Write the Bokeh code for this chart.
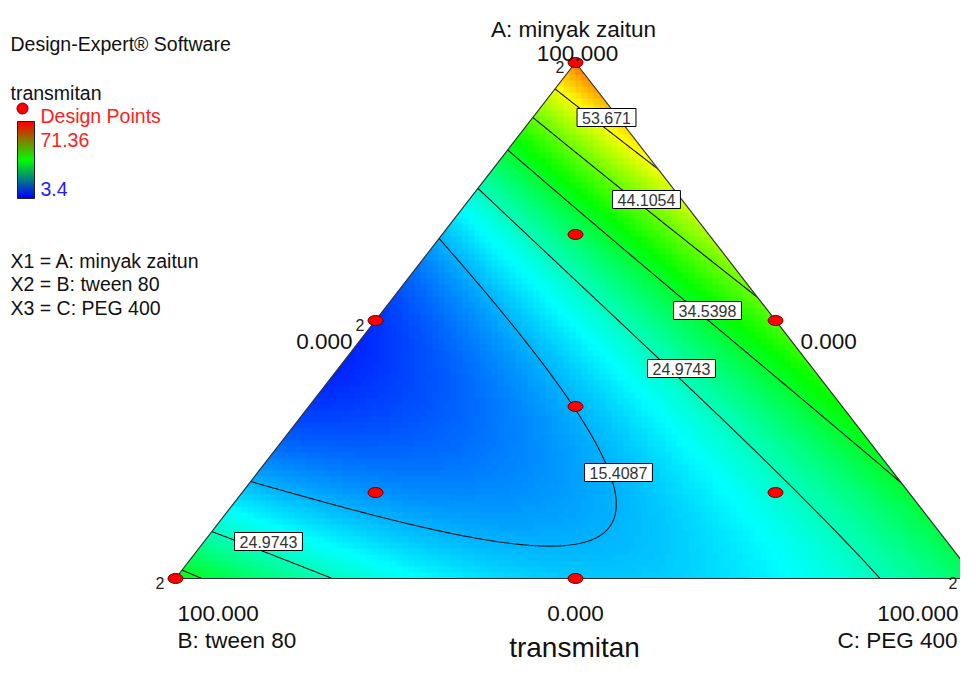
import numpy as np
from bokeh.plotting import figure
from bokeh.models import Range1d, Label, LinearColorMapper
from bokeh.core.properties import value
from bokeh.embed import file_html
from bokeh.resources import INLINE

# ---------------- data ----------------
software_text = "Design-Expert® Software"
response_name = "transmitan"
legend_points_text = "Design Points"
resp_high = 71.36
resp_low = 3.4
factor_lines = ["X1 = A: minyak zaitun", "X2 = B: tween 80", "X3 = C: PEG 400"]
comp_names = ["A: minyak zaitun", "B: tween 80", "C: PEG 400"]
vertex_ticks = ["100.000", "100.000", "100.000"]   # A, B, C vertices
edge_ticks = ["0.000", "0.000", "0.000"]           # A=0 (bottom), B=0 (right), C=0 (left)

coef_terms = ["A", "B", "C", "AB", "AC", "BC", "ABC"]
coef_values = [63.45, 36.9, 31.6, -173.5, -19.5, -69.1, 18.0]
contour_levels = [15.4087, 24.9743, 34.5398, 44.1054, 53.671]
contour_label_text = ["53.671", "44.1054", "34.5398", "24.9743", "15.4087", "24.9743"]

# design points (component fractions) and replicate counts
dp_A = [1.0, 0.0, 0.0, 0.5, 0.5, 0.0, 1/3, 2/3, 1/6, 1/6]
dp_B = [0.0, 1.0, 0.0, 0.5, 0.0, 0.5, 1/3, 1/6, 2/3, 1/6]
dp_C = [0.0, 0.0, 1.0, 0.0, 0.5, 0.5, 1/3, 1/6, 1/6, 2/3]
dp_reps = [2, 2, 2, 2, 1, 1, 1, 1, 1, 1]

# ---------------- layout helpers ----------------
# ternary -> plane: X = C + A/2, Y = A ; triangle B(0,0) C(1,0) A(0.5,1)
OX, OY, SX, SY = 175.0, 578.0, 800.0, 516.0   # pixel placement of the triangle
W, H = 960, 663
def px(x):
    return (x - OX) / SX
def py(y):
    return (OY - y) / SY
def tern(A, B, C):
    A = np.asarray(A, float); C = np.asarray(C, float)
    return C + A / 2.0, A

def model(A, B, C):
    c = dict(zip(coef_terms, coef_values))
    return (c["A"] * A + c["B"] * B + c["C"] * C + c["AB"] * A * B
            + c["AC"] * A * C + c["BC"] * B * C + c["ABC"] * A * B * C)

FONT = "Liberation Sans"

p = figure(width=W, height=H, output_backend="svg", toolbar_location=None,
           x_axis_location=None, y_axis_location=None, min_border=0,
           x_range=Range1d(px(0), px(W)), y_range=Range1d(py(H), py(0)))
p.outline_line_color = None
p.background_fill_color = "white"
p.border_fill_color = "white"
p.grid.grid_line_color = None

# ---------------- colour surface ----------------
def interp_palette(stops, n=256):
    stops = np.array(stops, float)
    pos = np.linspace(0, 1, len(stops))
    t = np.linspace(0, 1, n)
    r = np.interp(t, pos, stops[:, 0]); g = np.interp(t, pos, stops[:, 1]); b = np.interp(t, pos, stops[:, 2])
    return ["#%02x%02x%02x" % (int(round(a)), int(round(bb)), int(round(cc))) for a, bb, cc in zip(r, g, b)]

surf_pal = interp_palette([(0, 0, 255), (0, 255, 255), (0, 255, 0), (255, 255, 0), (255, 0, 0)])
mapper = LinearColorMapper(palette=surf_pal, low=resp_low, high=resp_high)

nx, ny = 134, 86
Xc = (np.arange(nx) + 0.5) / nx
Yc = (np.arange(ny) + 0.5) / ny
XX, YY = np.meshgrid(Xc, Yc)
Ag = YY; Cg = XX - YY / 2.0; Bg = 1.0 - Ag - Cg
Zimg = model(Ag, Bg, Cg)
p.image(image=[Zimg], x=0, y=0, dw=1, dh=1, color_mapper=mapper)

# contours
fx = np.linspace(0, 1, 401)
fy = np.linspace(0, 1, 261)
FX, FY = np.meshgrid(fx, fy)
FA = FY; FC = FX - FY / 2.0; FB = 1.0 - FA - FC
FZ = model(FA, FB, FC)
p.contour(x=FX, y=FY, z=FZ, levels=contour_levels, line_color="#111111", line_width=1.1)

# white masks outside the triangle
e = 0.02
p.patches(xs=[[-e, 0, 0.5, 0.5, -e], [1 + e, 1, 0.5, 0.5, 1 + e]],
          ys=[[0, 0, 1, 1 + e, 1 + e], [0, 0, 1, 1 + e, 1 + e]],
          fill_color="white", line_color=None)

# triangle outline
tx, ty = tern([1, 0, 0, 1], [0, 1, 0, 0], [0, 0, 1, 0])
p.line(x=tx, y=ty, line_color="#333333", line_width=1.2)

# contour labels
clab_pos = [(606, 117), (646, 199), (707, 310), (681, 368), (618, 472), (268, 541)]
for txt, (lx, ly) in zip(contour_label_text, clab_pos):
    p.add_layout(Label(x=px(lx), y=py(ly), text=txt, text_align="center", text_baseline="middle",
                       text_font=FONT, text_font_size="16px", text_color="#333333",
                       background_fill_color="white", border_line_color="black",
                       border_line_width=1, padding=(5, 3)))

# design points
dx, dy = tern(dp_A, dp_B, dp_C)
p.ellipse(x=dx, y=dy, width=15, height=10, width_units="screen", height_units="screen",
          fill_color="#ff0000", line_color="#5a0000", line_width=1)
rx = [x for x, r in zip(dx, dp_reps) if r > 1]
ry = [y for y, r in zip(dy, dp_reps) if r > 1]
rt = [str(r) for r in dp_reps if r > 1]
r_xoff = [-11, -11, -18, -11]   # last one nudged so it stays inside the canvas
p.text(x=rx, y=ry, text=rt, x_offset=r_xoff, y_offset=4, text_align="right", text_baseline="alphabetic",
       text_font=value(FONT), text_font_size="16px", text_color="#222222")

# ---------------- axis texts ----------------
def lab(text, x, y, size, align="left", color="#111111"):
    p.add_layout(Label(x=px(x), y=py(y), text=text, text_align=align, text_baseline="alphabetic",
                       text_font=FONT, text_font_size=size, text_color=color))

AS = "22.5px"
lab(comp_names[0], 573, 29, AS, "center")
lab(vertex_ticks[0], 577, 53, AS, "center")
lab(edge_ticks[2], 352, 341, AS, "right")
lab(edge_ticks[1], 800, 341, AS, "left")
lab(vertex_ticks[1], 177, 613, AS, "left")
lab(comp_names[1], 177, 640, AS, "left")
lab(edge_ticks[0], 575, 613, AS, "center")
lab(vertex_ticks[2], 958, 613, AS, "right")
lab(comp_names[2], 957, 640, AS, "right")
lab(response_name, 574, 647, "28px", "center")

# ---------------- left legend ----------------
LS = "19.5px"
lab(software_text, 10, 43, LS)
lab(response_name, 10, 92, LS)
p.ellipse(x=[px(22)], y=[py(108)], width=11, height=11, width_units="screen", height_units="screen",
          fill_color="#ff0000", line_color="#5a0000", line_width=1)
lab(legend_points_text, 40, 115, LS, color="#ff2020")
lab("%g" % resp_high, 40, 139, LS, color="#ff2020")
lab("%g" % resp_low, 40, 188, LS, color="#2020ff")

bar_pal = interp_palette([(0, 0, 255), (0, 255, 0), (255, 0, 0)])
bar_mapper = LinearColorMapper(palette=bar_pal, low=0, high=1)
bar_img = np.linspace(0, 1, 80).reshape(80, 1)
p.image(image=[bar_img], x=px(17), y=py(198), dw=px(34) - px(17), dh=py(121) - py(198), color_mapper=bar_mapper)
p.quad(left=[px(17)], right=[px(34)], bottom=[py(198)], top=[py(121)], fill_color=None,
       line_color="#222222", line_width=1)

for i, t in enumerate(factor_lines):
    lab(t, 10, [260, 283, 307][i], LS)

open("out.html", "w").write(file_html(p, INLINE))
